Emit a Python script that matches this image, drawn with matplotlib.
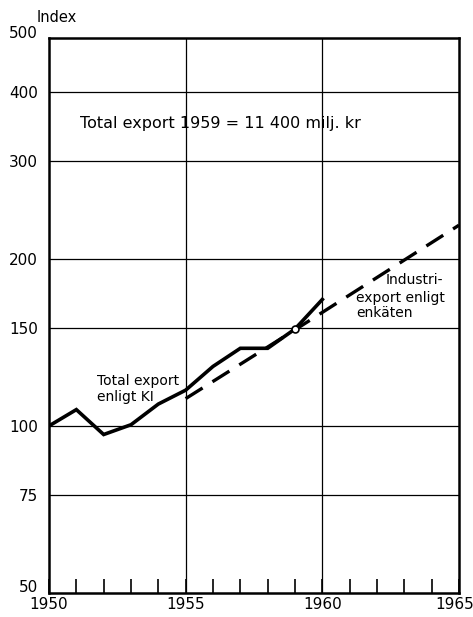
import matplotlib
matplotlib.use("Agg")
import matplotlib.pyplot as plt
from matplotlib.ticker import FixedLocator, NullFormatter, NullLocator
from matplotlib.transforms import ScaledTranslation

years_total = [1950, 1951, 1952, 1953, 1954, 1955, 1956, 1957, 1958, 1959, 1960]
total_export = [100, 107, 96.5, 100.5, 109.5, 116, 128, 138, 138, 149.5, 169]

years_ind = [1955, 1959, 1965]
industri_export = [112, 149, 230]

y_ticks = [50, 75, 100, 150, 200, 300, 400, 500]
x_labels = [1950, 1955, 1960, 1965]

plt.rcParams['font.family'] = ['DejaVu Sans']

fig = plt.figure(figsize=(4.73, 6.17), dpi=100)
ax = fig.add_axes([49/473, 24/617, 410/473, 555/617])

ax.set_yscale('log')
ax.set_ylim(50, 500)
ax.set_xlim(1950, 1965)

for v in y_ticks[1:-1]:
    ax.axhline(v, color='black', lw=0.9, zorder=1)
for v in [1955, 1960]:
    ax.axvline(v, color='black', lw=0.9, zorder=1)

ax.plot(years_total, total_export, color='black', lw=2.6, solid_joinstyle='miter', zorder=3)
ax.plot(years_ind, industri_export, color='black', lw=2.4, dashes=(6, 3.5), zorder=3)
ax.plot([1959], [149.5], marker='o', ms=5, mfc='white', mec='black', mew=1.2, zorder=4)

ax.yaxis.set_major_locator(FixedLocator(y_ticks))
ax.yaxis.set_minor_locator(NullLocator())
ax.yaxis.set_minor_formatter(NullFormatter())
ax.set_yticklabels([str(v) for v in y_ticks], fontsize=11)
ax.tick_params(axis='y', length=0, pad=8)

ax.xaxis.set_major_locator(FixedLocator(list(range(1950, 1966))))
ax.set_xticklabels([str(y) if y in x_labels else '' for y in range(1950, 1966)], fontsize=11)
ax.tick_params(axis='x', direction='in', length=10, width=1.2, pad=3)

# shift edge labels like the reference
ylabs = ax.get_yticklabels()
ylabs[0].set_transform(ylabs[0].get_transform() + ScaledTranslation(0, 7/100, fig.dpi_scale_trans))
ylabs[-1].set_transform(ylabs[-1].get_transform() + ScaledTranslation(0, 6/100, fig.dpi_scale_trans))
xlabs = ax.get_xticklabels()
xlabs[-1].set_transform(xlabs[-1].get_transform() + ScaledTranslation(-4/100, 0, fig.dpi_scale_trans))

for s in ax.spines.values():
    s.set_linewidth(1.8)

fig.text(37/473, 1 - 17/617, 'Index', fontsize=10.5, ha='left', va='center')

ax.text(1951.13, 350, 'Total export 1959 = 11 400 milj. kr', fontsize=11.5, ha='left', va='center')
ax.text(1951.76, 120.6, 'Total export', fontsize=10, ha='left', va='center')
ax.text(1951.76, 112.6, 'enligt KI', fontsize=10, ha='left', va='center')
ax.text(1962.3, 183, 'Industri-', fontsize=10, ha='left', va='center')
ax.text(1961.23, 170, 'export enligt', fontsize=10, ha='left', va='center')
ax.text(1961.23, 159.8, 'enkäten', fontsize=10, ha='left', va='center')

fig.savefig('out.png', dpi=100, facecolor='white')
